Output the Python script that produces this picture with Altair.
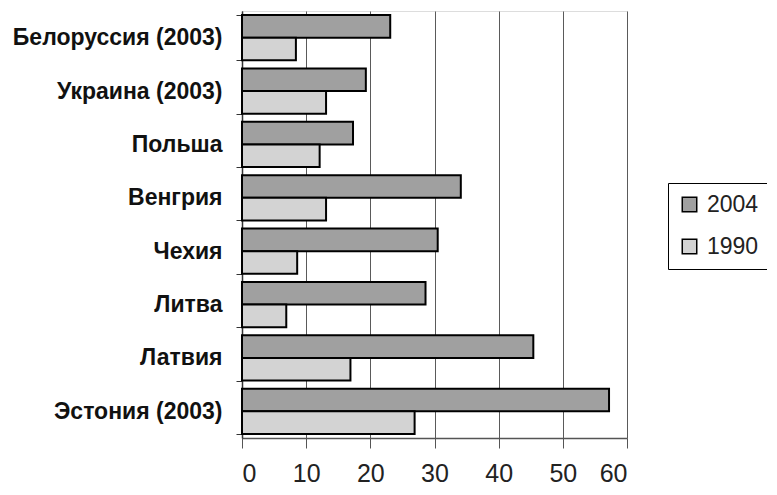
import altair as alt
import pandas as pd

countries = ["Белоруссия (2003)", "Украина (2003)", "Польша", "Венгрия", "Чехия", "Литва", "Латвия", "Эстония (2003)"]
v2004 = [23.1, 19.3, 17.3, 34.1, 30.5, 28.6, 45.4, 57.2]
v1990 = [8.4, 13.1, 12.1, 13.1, 8.6, 6.9, 16.9, 26.9]
years = ["2004", "1990"]
colors = ["#a0a0a0", "#d3d3d3"]
ticks = [0, 10, 20, 30, 40, 50, 60]

rows = []
for c, a, b in zip(countries, v2004, v1990):
    rows.append({"country": c, "year": "2004", "value": a})
    rows.append({"country": c, "year": "1990", "value": b})
df = pd.DataFrame(rows)

bars = alt.Chart(df).mark_bar(stroke="black", strokeWidth=2, cornerRadius=0).encode(
    x=alt.X("value:Q", scale=alt.Scale(domain=[0, 60], nice=False),
            axis=alt.Axis(values=ticks, title=None, grid=True,
                          gridColor="#5a5a5a", gridWidth=1, domainColor="#555555", domainWidth=1.5,
                          tickColor="#555555", tickSize=10, labelFontSize=25, labelColor="#222222",
                          labelFont="Liberation Sans", labelPadding=13)),
    y=alt.Y("country:N", sort=countries,
            scale=alt.Scale(paddingInner=0.15, paddingOuter=0.075),
            axis=alt.Axis(title=None, tickBand="extent", tickSize=6, tickColor="#333333",
                          domainColor="#333333", domainWidth=1.5, labelFontSize=23,
                          labelFontWeight="bold", labelFont="Liberation Sans", labelColor="#111111",
                          labelPadding=14, labelLimit=400)),
    yOffset=alt.YOffset("year:N", sort=years),
    fill=alt.Fill("year:N", sort=years,
                  scale=alt.Scale(domain=years, range=colors),
                  legend=alt.Legend(title=None, orient="none", legendX=426, legendY=172,
                                    symbolType="square", symbolSize=210, symbolStrokeColor="black",
                                    symbolStrokeWidth=1.5, labelFontSize=23, labelOffset=6,
                                    labelFont="Liberation Sans", labelColor="#222222",
                                    strokeColor="black", padding=10, rowPadding=18,
                                    fillColor="white")),
).properties(width=385, height=427,
             autosize=alt.AutoSizeParams(type="none"),
             padding={"left": 234, "top": 3, "right": 140, "bottom": 49})

chart = bars.configure_view(stroke="#c0c0c0", strokeWidth=2).configure(background="white")

chart.save("out.html", embed_options={"renderer": "svg", "actions": False})
